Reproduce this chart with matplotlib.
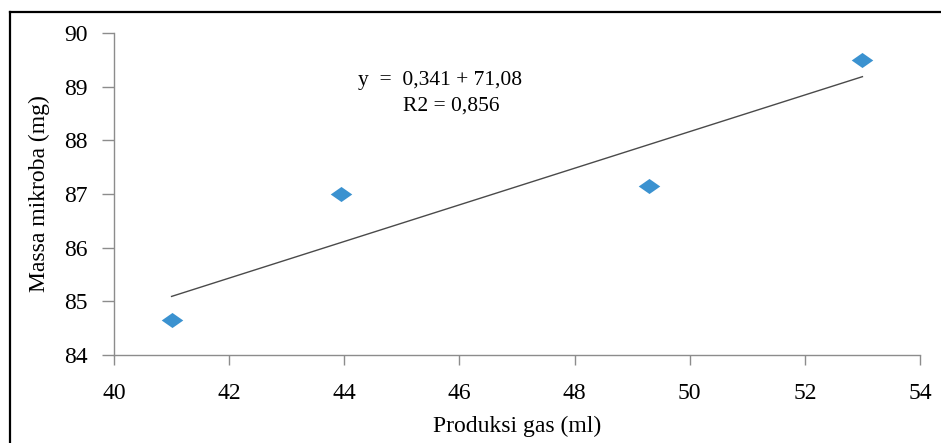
import matplotlib
matplotlib.use('Agg')
import matplotlib.pyplot as plt
import numpy as np

plt.rcParams['font.family'] = ['Liberation Serif', 'DejaVu Serif']

# data
gas_ml = [41.0, 43.95, 49.3, 53.0]
massa_mg = [84.65, 87.0, 87.15, 89.5]
x_ticks = [40, 42, 44, 46, 48, 50, 52, 54]
y_ticks = [84, 85, 86, 87, 88, 89, 90]

fig = plt.figure(figsize=(9.41, 4.43), dpi=100)
ax = fig.add_axes([114 / 941, 1 - 355 / 443, 806 / 941, 322 / 443])

# trend line from a linear fit of the points
slope, intercept = np.polyfit(gas_ml, massa_mg, 1)
xs = np.array([min(gas_ml), max(gas_ml)])
ax.plot(xs, slope * xs + intercept, color='#4a4a4a', linewidth=1.0, zorder=2)

# flattened diamond marker
diamond = [(-1, 0), (0, 0.7), (1, 0), (0, -0.7), (-1, 0)]
ax.plot(gas_ml, massa_mg, linestyle='none', marker=diamond, markersize=15.5,
        color='#3b92d0', markeredgewidth=0, zorder=3)

ax.set_xlim(40, 54)
ax.set_ylim(84, 90)
ax.set_xticks(x_ticks)
ax.set_yticks(y_ticks)
ax.set_xticklabels([str(t) for t in x_ticks])
ax.set_yticklabels([str(t) for t in y_ticks])

for side in ['top', 'right']:
    ax.spines[side].set_visible(False)
for side in ['left', 'bottom']:
    ax.spines[side].set_color('#8c8c8c')
    ax.spines[side].set_linewidth(1.0)

ax.tick_params(axis='x', direction='out', length=7, width=1, color='#8c8c8c',
               labelsize=17, pad=13)
ax.tick_params(axis='y', direction='out', length=9, width=1, color='#8c8c8c',
               labelsize=17, pad=10)

ax.set_xlabel('Produksi gas (ml)', fontsize=17, labelpad=9)
ax.set_ylabel('Massa mikroba (mg)', fontsize=17, labelpad=10)

# equation text
fig.text(358 / 941, 1 - 81 / 443, 'y  =  0,341 + 71,08', fontsize=15.5,
         ha='left', va='center')
fig.text(403 / 941, 1 - 106 / 443, 'R2 = 0,856', fontsize=15.5,
         ha='left', va='center')

# outer frame (top and left edges visible)
fig.add_artist(plt.Line2D([10 / 941, 1.0], [1 - 12 / 443, 1 - 12 / 443],
                          color='black', linewidth=1.6, transform=fig.transFigure))
fig.add_artist(plt.Line2D([10 / 941, 10 / 941], [0.0, 1 - 12 / 443],
                          color='black', linewidth=1.6, transform=fig.transFigure))

fig.savefig('out.png', dpi=100)
plt.close(fig)
